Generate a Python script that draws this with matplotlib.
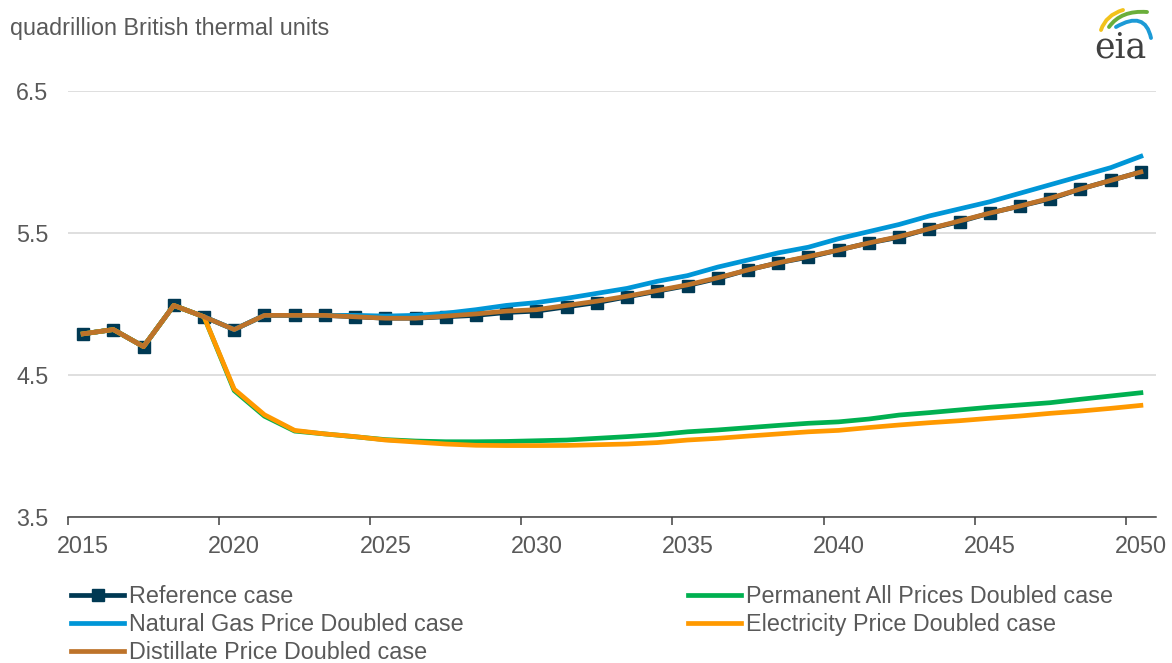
import matplotlib
matplotlib.use("Agg")
import matplotlib.pyplot as plt
from matplotlib.path import Path
from matplotlib.patches import PathPatch

plt.rcParams["font.family"] = ["Liberation Sans", "DejaVu Sans"]

W, H = 1172, 663
TEXT = "#595959"

years = list(range(2015, 2051))

reference = [4.79, 4.82, 4.70, 4.99, 4.91, 4.82, 4.92, 4.92, 4.92, 4.91,
             4.90, 4.90, 4.91, 4.92, 4.94, 4.95, 4.98, 5.01, 5.05, 5.09,
             5.13, 5.18, 5.24, 5.29, 5.33, 5.38, 5.43, 5.47, 5.53, 5.58,
             5.64, 5.69, 5.74, 5.81, 5.87, 5.93]

natural_gas = [4.79, 4.82, 4.70, 4.99, 4.91, 4.82, 4.92, 4.92, 4.92, 4.92,
               4.915, 4.92, 4.935, 4.96, 4.99, 5.01, 5.04, 5.075, 5.11, 5.16,
               5.20, 5.26, 5.31, 5.36, 5.40, 5.46, 5.51, 5.56, 5.62, 5.67,
               5.72, 5.78, 5.84, 5.90, 5.96, 6.04]

distillate = [4.79, 4.82, 4.70, 4.99, 4.91, 4.82, 4.92, 4.92, 4.92, 4.91,
              4.90, 4.90, 4.915, 4.93, 4.95, 4.96, 4.99, 5.02, 5.055, 5.095,
              5.135, 5.185, 5.24, 5.29, 5.335, 5.38, 5.43, 5.475, 5.53, 5.585,
              5.64, 5.69, 5.745, 5.81, 5.87, 5.93]

all_prices = [4.79, 4.82, 4.70, 4.99, 4.91, 4.39, 4.21, 4.105, 4.085, 4.065,
              4.045, 4.035, 4.03, 4.03, 4.032, 4.037, 4.042, 4.054, 4.066, 4.08,
              4.10, 4.113, 4.129, 4.145, 4.16, 4.17, 4.19, 4.218, 4.235, 4.254,
              4.273, 4.289, 4.305, 4.329, 4.352, 4.375]

electricity = [4.79, 4.82, 4.70, 4.99, 4.91, 4.40, 4.22, 4.11, 4.085, 4.066,
               4.042, 4.028, 4.014, 4.005, 4.003, 4.003, 4.004, 4.009, 4.014, 4.024,
               4.042, 4.054, 4.07, 4.085, 4.10, 4.11, 4.13, 4.148, 4.164, 4.178,
               4.195, 4.211, 4.23, 4.246, 4.265, 4.286]

yticks = [3.5, 4.5, 5.5, 6.5]
xlabels = [2015, 2020, 2025, 2030, 2035, 2040, 2045, 2050]

fig = plt.figure(figsize=(W / 100, H / 100), dpi=100)
ax = fig.add_axes([68 / W, 1 - 517 / H, (1156 - 68) / W, (517 - 91) / H])

lw = 3.4
l_ref, = ax.plot(years, reference, color="#003953", lw=lw, marker="s",
                 markersize=8, zorder=2, label="Reference case")
l_gas, = ax.plot(years, natural_gas, color="#0096D7", lw=lw, zorder=3,
                 label="Natural Gas Price Doubled case")
l_all, = ax.plot(years, all_prices, color="#00B050", lw=lw, zorder=3,
                 label="Permanent All Prices Doubled case")
l_ele, = ax.plot(years, electricity, color="#FF9900", lw=lw, zorder=4,
                 label="Electricity Price Doubled case")
l_dis, = ax.plot(years, distillate, color="#BD732A", lw=lw, zorder=5,
                 label="Distillate Price Doubled case")

ax.set_xlim(years[0] - 0.5, years[-1] + 0.5)
ax.set_ylim(yticks[0], yticks[-1])

# category style axis: ticks between years, labels on the years
ax.set_xticks([y - 0.5 for y in xlabels])
ax.set_xticklabels([])
ax.set_xticks(xlabels, minor=True)
ax.set_xticklabels([str(y) for y in xlabels], minor=True)
ax.tick_params(axis="x", which="major", length=6, width=1.1, color="#404040",
               direction="out")
ax.tick_params(axis="x", which="minor", length=0, pad=13, labelsize=16.8,
               labelcolor=TEXT)

ax.set_yticks(yticks)
ax.set_yticklabels([f"{v:.1f}" for v in yticks])
ax.tick_params(axis="y", length=0, pad=14, labelsize=16.8, labelcolor=TEXT)

ax.grid(axis="y", color="#D9D9D9", lw=1.2)
ax.set_axisbelow(True)
for side in ["top", "right", "left"]:
    ax.spines[side].set_visible(False)
ax.spines["bottom"].set_color("#404040")
ax.spines["bottom"].set_linewidth(1.1)
ax.spines["bottom"].set_zorder(6)

fig.text(10 / W, 1 - 28 / H, "quadrillion British thermal units",
         fontsize=16.8, color=TEXT, ha="left", va="center")

leg_kw = dict(frameon=False, fontsize=16.8, labelcolor=TEXT, borderpad=0,
              handlelength=2.3, handletextpad=0.2, labelspacing=0.22,
              loc="upper left", bbox_transform=fig.transFigure)
leg1 = fig.legend([l_ref, l_gas, l_dis],
                  [l_ref.get_label(), l_gas.get_label(), l_dis.get_label()],
                  bbox_to_anchor=(59 / W, 1 - 573 / H), **leg_kw)
leg2 = fig.legend([l_all, l_ele], [l_all.get_label(), l_ele.get_label()],
                  bbox_to_anchor=(676 / W, 1 - 573 / H), **leg_kw)

# eia logo
lax = fig.add_axes([0, 0, 1, 1])
lax.set_xlim(0, W)
lax.set_ylim(H, 0)
lax.axis("off")
arcs = [
    ("#F2C21B", [(1101, 30), (1106, 15), (1123, 10)]),
    ("#6AAE3A", [(1109, 27), (1121, 10), (1147, 12)]),
    ("#1C9AD6", [(1116, 27), (1145, 10), (1151, 38)]),
]
for col, pts in arcs:
    path = Path(pts, [Path.MOVETO, Path.CURVE3, Path.CURVE3])
    lax.add_patch(PathPatch(path, facecolor="none", edgecolor=col, lw=2.8,
                            capstyle="round"))
lax.text(1120, 47, "eia", family="DejaVu Serif", fontsize=25, color="#404040",
         ha="center", va="center")

fig.savefig("out.png", dpi=100)
